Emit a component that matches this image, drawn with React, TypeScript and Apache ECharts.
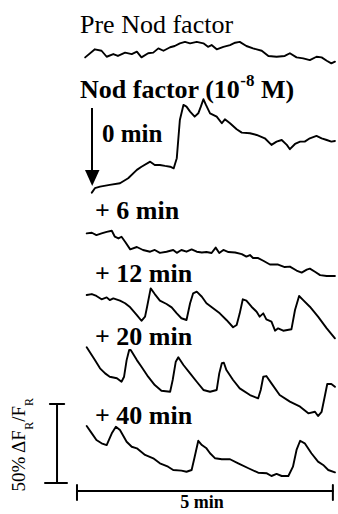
import { useEffect, useRef } from "react";
import * as echarts from "echarts";

// Each trace: [time (min), ΔF/F (%) above the trace's own minimum]
const preNod: [number, number][] = [
  [0.16, 4.2], [0.35, 9.3], [0.48, 8.4], [0.58, 4.6], [0.71, 6.3], [0.8, 5.1], [0.94, 7.2], [1.07, 6.3],
  [1.17, 7.8], [1.26, 4.2], [1.39, 6.8], [1.49, 7.2], [1.59, 9.9], [1.69, 8.4], [1.82, 10.6], [1.91, 11.4],
  [2.01, 13.1], [2.11, 14.0], [2.21, 13.1], [2.34, 14.0], [2.47, 13.1], [2.56, 10.9], [2.63, 12.0], [2.73, 9.3],
  [2.86, 10.9], [2.99, 12.0], [3.09, 13.5], [3.18, 14.0], [3.31, 11.4], [3.44, 9.9], [3.61, 8.4], [3.74, 5.1],
  [3.9, 4.6], [4.06, 5.1], [4.16, 6.8], [4.29, 4.2], [4.42, 3.6], [4.55, 2.5], [4.68, 4.6], [4.78, 4.2],
  [4.88, 2.1], [4.97, 0.4], [5.04, 1.5],
];
const min0: [number, number][] = [
  [0.29, 0.2], [0.35, 3.0], [0.45, 4.0], [0.64, 5.1], [0.84, 6.1], [1.0, 9.3], [1.17, 14.6], [1.26, 16.6],
  [1.43, 19.8], [1.52, 17.7], [1.62, 17.7], [1.72, 17.1], [1.82, 16.6], [1.89, 15.6], [1.95, 22.0], [2.01, 46.2],
  [2.08, 55.7], [2.14, 54.6], [2.21, 51.5], [2.3, 48.3], [2.37, 50.4], [2.42, 54.6], [2.47, 59.3], [2.52, 55.7],
  [2.6, 50.4], [2.73, 48.3], [2.83, 44.1], [2.89, 46.6], [2.99, 44.1], [3.12, 40.3], [3.22, 38.2], [3.38, 37.8],
  [3.51, 36.7], [3.67, 34.6], [3.8, 30.4], [3.9, 32.5], [4.0, 33.5], [4.1, 30.4], [4.16, 27.7], [4.26, 31.0],
  [4.36, 32.5], [4.45, 32.5], [4.55, 34.6], [4.68, 36.1], [4.78, 34.6], [4.88, 33.5], [4.97, 32.5], [5.04, 32.9],
];
const min6: [number, number][] = [
  [0.19, 27.0], [0.29, 27.4], [0.38, 25.9], [0.48, 27.0], [0.58, 28.0], [0.68, 28.7], [0.74, 24.9], [0.81, 23.8],
  [0.87, 24.9], [0.94, 21.7], [1.04, 16.9], [1.17, 18.4], [1.29, 16.5], [1.43, 15.4], [1.52, 16.5], [1.62, 14.7],
  [1.75, 15.4], [1.88, 16.5], [1.95, 14.7], [2.04, 16.5], [2.14, 15.4], [2.24, 16.9], [2.34, 15.4], [2.44, 14.9],
  [2.53, 15.2], [2.63, 14.6], [2.71, 18.0], [2.78, 14.6], [2.86, 16.5], [2.96, 15.2], [3.09, 14.9], [3.22, 13.9],
  [3.31, 12.3], [3.38, 13.3], [3.44, 11.4], [3.54, 11.4], [3.64, 9.7], [3.77, 7.3], [3.93, 7.3], [4.06, 5.7],
  [4.16, 6.0], [4.29, 3.5], [4.39, 2.2], [4.49, 4.1], [4.55, 4.7], [4.65, 2.7], [4.75, 0.6], [4.88, 0], [5.04, 0],
];
const min12: [number, number][] = [
  [0.19, 27.4], [0.29, 28.0], [0.38, 26.8], [0.48, 24.7], [0.58, 25.9], [0.64, 24.2], [0.71, 25.3], [0.84, 23.8],
  [0.94, 22.2], [1.04, 19.6], [1.17, 14.7], [1.26, 11.1], [1.33, 13.7], [1.37, 20.0], [1.44, 31.6], [1.52, 28.0],
  [1.62, 23.8], [1.75, 21.7], [1.85, 19.6], [1.95, 15.8], [2.04, 12.7], [2.14, 11.6], [2.21, 22.2], [2.27, 28.5],
  [2.34, 29.5], [2.44, 26.3], [2.53, 22.2], [2.66, 19.0], [2.79, 15.8], [2.92, 11.6], [3.05, 7.0], [3.12, 8.4],
  [3.18, 15.8], [3.24, 24.7], [3.31, 23.8], [3.41, 20.0], [3.51, 16.8], [3.57, 13.7], [3.64, 15.8], [3.7, 12.0],
  [3.8, 10.5], [3.87, 4.8], [3.93, 6.3], [4.03, 4.8], [4.19, 5.7], [4.26, 17.9], [4.34, 26.8], [4.42, 24.2],
  [4.55, 20.0], [4.71, 13.7], [4.88, 6.3], [5.04, 0],
];
const min20: [number, number][] = [
  [0.19, 43.5], [0.35, 35.4], [0.45, 30.2], [0.55, 27.0], [0.64, 24.9], [0.78, 23.9], [0.87, 21.7], [0.92, 24.9],
  [0.97, 35.4], [1.02, 41.8], [1.05, 41.8], [1.17, 35.4], [1.26, 31.2], [1.39, 24.9], [1.52, 19.6], [1.65, 16.0],
  [1.82, 15.4], [1.87, 22.8], [1.93, 34.4], [1.98, 37.2], [2.08, 32.3], [2.21, 27.0], [2.34, 21.7], [2.47, 16.5],
  [2.6, 15.4], [2.73, 16.5], [2.78, 27.0], [2.83, 33.4], [2.87, 33.7], [2.92, 29.1], [3.05, 22.8], [3.18, 17.5],
  [3.38, 13.3], [3.54, 11.2], [3.59, 16.5], [3.64, 24.9], [3.7, 25.3], [3.8, 20.7], [3.96, 13.3], [4.16, 9.1],
  [4.36, 5.9], [4.52, 1.7], [4.65, 2.7], [4.71, 0], [4.78, 2.7], [4.84, 12.2], [4.89, 20.3], [4.97, 20.3],
  [5.04, 18.5],
];
const min40: [number, number][] = [
  [0.19, 31.6], [0.29, 27.0], [0.38, 22.8], [0.48, 20.7], [0.58, 19.6], [0.68, 27.0], [0.76, 31.2], [0.84, 29.1],
  [0.97, 21.7], [1.07, 18.5], [1.17, 17.5], [1.33, 13.3], [1.49, 11.2], [1.62, 8.0], [1.78, 5.9], [1.88, 3.8],
  [2.04, 3.4], [2.14, 2.7], [2.24, 3.8], [2.3, 12.2], [2.37, 22.3], [2.44, 19.6], [2.53, 17.5], [2.6, 14.4],
  [2.7, 11.2], [2.83, 10.6], [2.99, 10.6], [3.15, 8.0], [3.35, 4.9], [3.54, 2.1], [3.71, 1.7], [3.8, 0],
  [3.9, 1.3], [4.0, 0], [4.13, 0], [4.22, 5.9], [4.29, 16.5], [4.36, 22.3], [4.45, 20.7], [4.58, 14.4],
  [4.71, 9.1], [4.81, 7.0], [4.91, 3.8], [5.04, 2.3],
];

const traces = [preNod, min0, min6, min12, min20, min40];
const traceNames = ["Pre Nod factor", "0 min", "+ 6 min", "+ 12 min", "+ 20 min", "+ 40 min"];

// Scale bars
const scaleMinutes = 5;
const scalePercent = 50;

// Layout (vertical placement of each trace, in % units of the shared axis)
const traceOffsets = [284.8, 203.2, 150.6, 111.2, 62.0, 24.05];
const hBarLevel = 14.6;
const vBarTime = -0.39;
const vBarBase = 19.6;

const F = "'Liberation Serif', 'Times New Roman', serif";

export default function App() {
  const ref = useRef<HTMLDivElement>(null);
  useEffect(() => {
    document.body.style.margin = "0";
    const chart = echarts.init(ref.current!, undefined, { renderer: "svg" });
    const line = (data: number[][], name: string, w = 1.9) => ({
      type: "line",
      name,
      data,
      symbol: "none",
      silent: true,
      lineStyle: { color: "#000", width: w, cap: "round", join: "round" },
    });
    const series: any[] = traces.map((pts, i) =>
      line(pts.map(([t, v]) => [t, v + traceOffsets[i]]), traceNames[i])
    );
    // horizontal 5 min bar
    series.push(line([[0, hBarLevel], [scaleMinutes, hBarLevel]], "time bar", 2));
    series.push(line([[0, hBarLevel + 3.8], [0, hBarLevel - 5.7]], "tick a", 2));
    series.push(line([[scaleMinutes, hBarLevel + 3.8], [scaleMinutes, hBarLevel - 5.7]], "tick b", 2));
    // vertical 50% bar
    series.push(line([[vBarTime, vBarBase], [vBarTime, vBarBase + scalePercent]], "amp bar", 2));
    series.push(line([[vBarTime - 0.14, vBarBase + scalePercent], [vBarTime + 0.14, vBarBase + scalePercent]], "tick c", 2));
    series.push(line([[vBarTime - 0.235, vBarBase], [vBarTime + 0.195, vBarBase]], "tick d", 2));

    const label = (text: string, x: number, baseline: number, size: number, bold: boolean, align = "left") => ({
      type: "text",
      x,
      y: baseline - 0.34 * size,
      style: {
        text,
        fill: "#000",
        font: `${bold ? "bold " : ""}${size}px ${F}`,
        align,
        verticalAlign: "middle",
      },
    });

    chart.setOption({
      animation: false,
      backgroundColor: "#fff",
      grid: { left: 41.16, top: 0, width: 296.96, height: 514 },
      xAxis: { type: "value", min: -0.7, max: 5.1, show: false },
      yAxis: { type: "value", min: 0, max: 325.32, show: false },
      series,
      graphic: [
        label("Pre Nod factor", 80, 33, 26, false),
        {
          type: "text",
          x: 80,
          y: 72,
          style: {
            text: "{a|Nod factor (10}{s|-8}{a| M)}",
            verticalAlign: "top",
            rich: {
              a: { fontSize: 26, fontWeight: "bold", fontFamily: F, lineHeight: 30, verticalAlign: "bottom", fill: "#000" },
              s: { fontSize: 17, fontWeight: "bold", fontFamily: F, lineHeight: 30, verticalAlign: "top", fill: "#000" },
            },
          },
        },
        label("0 min", 102, 142, 25, true),
        label("+ 6 min", 95, 219, 26, true),
        label("+ 12 min", 95, 282, 26, true),
        label("+ 20 min", 95, 345, 26, true),
        label("+ 40 min", 95, 424, 26, true),
        label("5 min", 202, 508, 18, true, "center"),
        {
          type: "group",
          children: [
            { type: "line", shape: { x1: 92, y1: 108, x2: 92, y2: 172 }, style: { stroke: "#000", lineWidth: 2 } },
            { type: "polygon", shape: { points: [[85, 170], [99.5, 170], [92.2, 186]] }, style: { fill: "#000" } },
          ],
        },
        {
          type: "text",
          x: 22,
          y: 445,
          rotation: Math.PI / 2,
          style: {
            text: "{n|50% ΔF}{s|R}{n|/F}{s|R}",
            align: "center",
            verticalAlign: "middle",
            rich: {
              n: { fontSize: 19, fontFamily: F, lineHeight: 26, verticalAlign: "top", fill: "#000" },
              s: { fontSize: 12, fontFamily: F, lineHeight: 26, verticalAlign: "bottom", fill: "#000" },
            },
          },
        },
      ],
    });
    return () => chart.dispose();
  }, []);
  return <div ref={ref} style={{ width: 338, height: 514 }} />;
}
